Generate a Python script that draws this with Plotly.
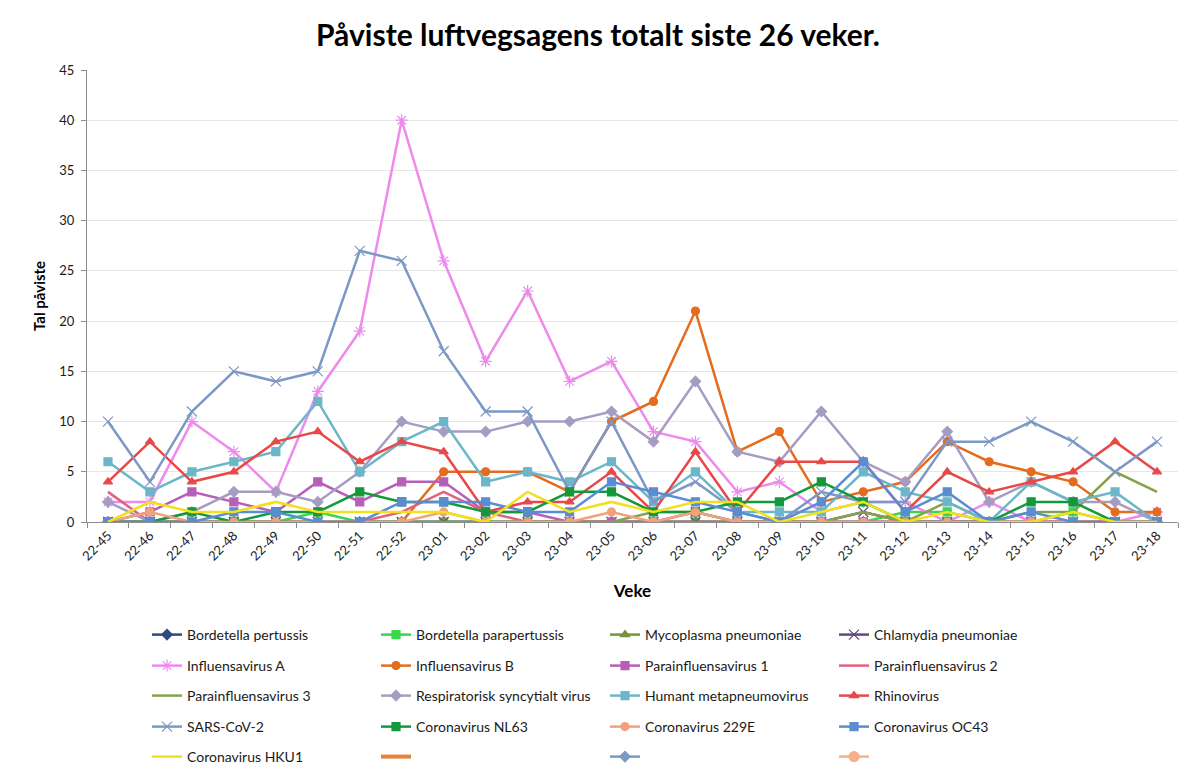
import plotly.graph_objects as go

weeks = ['22-45', '22-46', '22-47', '22-48', '22-49', '22-50', '22-51', '22-52',
         '23-01', '23-02', '23-03', '23-04', '23-05', '23-06', '23-07', '23-08',
         '23-09', '23-10', '23-11', '23-12', '23-13', '23-14', '23-15', '23-16',
         '23-17', '23-18']

bordetella_pertussis = [0, 0, 0, 0, 0, 0, 0, 0, 0, 0, 0, 0, 0, 0, 0, 0, 0, 0, 0, 0, 0, 0, 0, 0, 0, 0]
bordetella_parapertussis = [0, 0, 0, 0, 0, 1, 0, 0, 0, 0, 0, 0, 0, 0, 0, 0, 0, 0, 0, 1, 1, 0, 0, 1, 0, 0]
mycoplasma = [0, 0, 0, 0, 0, 0, 0, 0, 0, 0, 0, 0, 0, 0, 0, 0, 0, 0, 0, 0, 0, 0, 0, 0, 0, 0]
chlamydia = [0, 0, 0, 0, 0, 0, 0, 0, 0, 0, 0, 0, 0, 0, 0, 0, 0, 0, 1, 0, 0, 0, 0, 0, 0, 0]
influensa_a = [2, 2, 10, 7, 3, 13, 19, 40, 26, 16, 23, 14, 16, 9, 8, 3, 4, 1, 2, 2, 0, 2, 0, 0, 0, 1]
influensa_b = [None, None, None, None, None, None, None, 0, 5, 5, 5, 3, 10, 12, 21, 7, 9, 2, 3, 4, 8, 6, 5, 4, 1, 1]
para1 = [0, 1, 3, 2, 1, 4, 2, 4, 4, 1, 1, 0, 0, 0, 1, 0, 0, 0, 0, 0, 0, 0, 0, 0, 0, 0]
para2 = [3, 0, 0, 0, 0, 0, 0, 1, 3, 1, 0, 0, 0, 0, 0, 0, 0, 0, 0, 0, 0, 0, 0, 0, 0, 0]
para3 = [0, 0, 0, 0, 0, 0, 0, 0, 0, 0, 0, 0, 0, 1, 1, 0, 0, 0, 1, 0, 2, 0, 1, 1, 5, 3]
rsv = [2, 0, 1, 3, 3, 2, 5, 10, 9, 9, 10, 10, 11, 8, 14, 7, 6, 11, 6, 4, 9, 2, 4, 2, 2, 0]
hmpv = [6, 3, 5, 6, 7, 12, 5, 8, 10, 4, 5, 4, 6, 2, 5, 1, 1, 1, 5, 3, 2, 0, 4, 2, 3, 0]
rhino = [4, 8, 4, 5, 8, 9, 6, 8, 7, 1, 2, 2, 5, 1, 7, 1, 6, 6, 6, 1, 5, 3, 4, 5, 8, 5]
sars = [10, 4, 11, 15, 14, 15, 27, 26, 17, 11, 11, 3, 10, 2, 4, 1, 0, 3, 2, 2, 8, 8, 10, 8, 5, 8]
nl63 = [0, 0, 1, 0, 1, 1, 3, 2, 2, 1, 1, 3, 3, 1, 1, 2, 2, 4, 2, 0, 0, 0, 2, 2, 0, 0]
e229 = [0, 1, 0, 0, 0, 0, 0, 0, 1, 0, 0, 0, 1, 0, 1, 0, 0, 0, 0, 0, 0, 0, 0, 0, 0, 0]
oc43 = [0, 0, 0, 1, 1, 0, 0, 2, 2, 2, 1, 1, 4, 3, 2, 1, 0, 2, 6, 1, 3, 0, 1, 0, 0, 0]
hku1 = [0, 2, 1, 1, 2, 1, 1, 1, 1, 0, 3, 1, 2, 1, 2, 2, 0, 1, 2, 0, 1, 0, 0, 1, 0, 0]
empty = [None] * len(weeks)

# name, values, color, marker symbol (None = no marker), line width
series = [
    ('Bordetella pertussis', bordetella_pertussis, '#2E4A7D', 'diamond', 2.5),
    ('Bordetella parapertussis', bordetella_parapertussis, '#3CD64A', 'square', 2.5),
    ('Mycoplasma pneumoniae', mycoplasma, '#76923C', 'triangle-up', 2.5),
    ('Chlamydia pneumoniae', chlamydia, '#5F4B7B', 'x-thin', 2.5),
    ('Influensavirus A', influensa_a, '#EE8AEE', 'asterisk', 2.5),
    ('Influensavirus B', influensa_b, '#E46C1E', 'circle', 2.5),
    ('Parainfluensavirus 1', para1, '#B85EB8', 'square', 2.5),
    ('Parainfluensavirus 2', para2, '#E2627E', None, 2.5),
    ('Parainfluensavirus 3', para3, '#86A24C', None, 2.5),
    ('Respiratorisk syncytialt virus', rsv, '#A69CC2', 'diamond', 2.5),
    ('Humant metapneumovirus', hmpv, '#6CB6CA', 'square', 2.5),
    ('Rhinovirus', rhino, '#E84848', 'triangle-up', 2.5),
    ('SARS-CoV-2', sars, '#7C98C4', 'x-thin', 2.5),
    ('Coronavirus NL63', nl63, '#14993A', 'square', 2.5),
    ('Coronavirus 229E', e229, '#F2A27A', 'circle', 2.5),
    ('Coronavirus OC43', oc43, '#5A8CD2', 'square', 2.5),
    ('Coronavirus HKU1', hku1, '#F2E01E', None, 2.5),
    ('', empty, '#E8823A', None, 4),
    ('', empty, '#7C98C4', 'diamond', 2.5),
    ('', empty, '#F4B08A', 'circle', 2.5),
]

fig = go.Figure()
legend_names = ['legend', 'legend2', 'legend3', 'legend4', 'legend5']
for i, (name, vals, color, sym, lw) in enumerate(series):
    kw = dict(x=weeks, y=vals, name=name, legend=legend_names[i // 4],
              line=dict(color=color, width=lw), connectgaps=False)
    if sym is None:
        kw['mode'] = 'lines'
    else:
        kw['mode'] = 'lines+markers'
        size = 10 if sym in ('x-thin', 'asterisk') else 8
        if sym == 'circle' and name == '':
            size = 10
        kw['marker'] = dict(symbol=sym, size=size, color=color,
                            line=dict(color=color, width=1.2))
    fig.add_trace(go.Scatter(**kw))

font_family = 'Lato, Liberation Sans, Arial, sans-serif'
W, H = 1185, 769
row_py = [635, 666, 696, 727, 757]
legend_layout = {}
for j, ln in enumerate(legend_names):
    legend_layout[ln] = dict(
        orientation='h', xref='container', yref='container',
        x=147 / W, xanchor='left',
        y=1 - row_py[j] / H, yanchor='middle',
        entrywidth=184, entrywidthmode='pixels',
        font=dict(size=14, color='#1a1a1a', family=font_family),
        bgcolor='rgba(0,0,0,0)', itemwidth=30,
        traceorder='normal',
    )

fig.update_layout(
    width=W, height=H,
    paper_bgcolor='white', plot_bgcolor='white',
    margin=dict(l=87, r=7, t=70, b=247),
    font=dict(family=font_family, color='#1a1a1a'),
    title=dict(text='<b>Påviste luftvegsagens totalt siste 26 veker.</b>',
               x=598 / W, xanchor='center', y=1 - 35 / H, yanchor='middle',
               font=dict(size=30, color='#000000', family=font_family)),
    xaxis=dict(
        type='category', range=[-0.5, 25.5], tickangle=-45,
        tickson='boundaries', ticks='outside', ticklen=5, tickcolor='#8c8c8c',
        showline=True, linecolor='#8c8c8c', linewidth=1,
        showgrid=False, tickfont=dict(size=13, color='#1a1a1a'),
        title=dict(text='<b>Veke</b>', font=dict(size=17, color='#000000'),
                   standoff=22),
    ),
    yaxis=dict(
        range=[0, 45], dtick=5, tick0=0,
        ticks='outside', ticklen=5, tickcolor='#8c8c8c',
        showline=True, linecolor='#8c8c8c', linewidth=1,
        showgrid=True, gridcolor='#e6e6e6', gridwidth=1,
        zeroline=False, tickfont=dict(size=13, color='#1a1a1a'),
        ticklabelstandoff=4,
        title=dict(text='<b>Tal påviste</b>', font=dict(size=15, color='#000000'),
                   standoff=10),
    ),
    **legend_layout,
)

fig.write_html('out.html', config={'displayModeBar': False},
               post_script="document.body.style.margin='0px';")
